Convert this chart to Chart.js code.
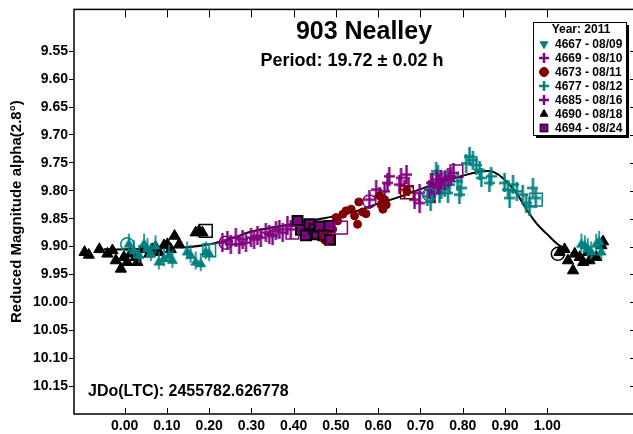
<!DOCTYPE html>
<html>
<head>
<meta charset="utf-8">
<script src="https://cdn.jsdelivr.net/npm/chart.js@4.4.1/dist/chart.umd.min.js"></script>
<style>
  html, body { margin: 0; padding: 0; background: #fff; overflow: hidden; }
</style>
</head>
<body>
<canvas id="lightcurve" width="638" height="434"></canvas>
<script>
/* global Chart */

const FONT = "'Liberation Sans', Arial, sans-serif";

const xTicks = [0.0, 0.1, 0.2, 0.3, 0.4, 0.5, 0.6, 0.7, 0.8, 0.9, 1.0];
const yTicks = [9.55, 9.60, 9.65, 9.70, 9.75, 9.80, 9.85, 9.90, 9.95, 10.00, 10.05, 10.10, 10.15];

const sessionLabels = ["4667 - 08/09", "4669 - 08/10", "4673 - 08/11", "4677 - 08/12", "4685 - 08/16", "4690 - 08/18", "4694 - 08/24"];

// session 4667 (08/09)
const phase4667 = [0.010, 0.022, 0.034, 0.046, 0.054, 0.062, 0.073, 0.081, 0.093, 0.105, 0.113, 0.148, 0.156, 0.168, 0.180, 0.192, 0.200,
    1.081, 1.089, 1.096, 1.104, 1.116, 1.123, 1.128];
const mag4667 = [9.893, 9.905, 9.913, 9.893, 9.901, 9.910, 9.896, 9.925, 9.919, 9.913, 9.922, 9.907, 9.913, 9.925, 9.928, 9.907, 9.910,
    9.893, 9.896, 9.901, 9.907, 9.893, 9.888, 9.907];

// session 4669 (08/10)
const phase4669 = [0.231, 0.243, 0.251, 0.263, 0.271, 0.279, 0.287, 0.299, 0.306, 0.314, 0.322, 0.334, 0.342, 0.350, 0.358, 0.366, 0.374, 0.385, 0.393];
const mag4669 = [9.893, 9.890, 9.896, 9.884, 9.896, 9.887, 9.893, 9.884, 9.887, 9.881, 9.884, 9.875, 9.878, 9.881, 9.872, 9.869, 9.875, 9.863, 9.869];

// session 4673 (08/11)
const phase4673 = [0.476, 0.484, 0.492, 0.500, 0.504, 0.516, 0.524, 0.536, 0.544, 0.551, 0.554, 0.563, 0.571, 0.603, 0.607, 0.611, 0.615, 0.619, 0.668];
const mag4673 = [9.887, 9.887, 9.869, 9.848, 9.854, 9.842, 9.836, 9.833, 9.845, 9.860, 9.820, 9.838, 9.841, 9.809, 9.825, 9.833, 9.816, 9.825, 9.801];

// session 4677 (08/12)
const phase4677 = [0.716, 0.724, 0.729, 0.737, 0.741, 0.745, 0.749, 0.757, 0.759, 0.765, 0.769, 0.788, 0.792, 0.796, 0.808, 0.816, 0.824, 0.832,
    0.840, 0.844, 0.863, 0.867, 0.899, 0.907, 0.911, 0.919, 0.928, 0.942, 0.950, 0.958, 0.966, 0.973];
const mag4677 = [9.810, 9.820, 9.804, 9.765, 9.770, 9.804, 9.798, 9.795, 9.780, 9.804, 9.789, 9.783, 9.807, 9.795, 9.751, 9.739, 9.745, 9.754,
    9.763, 9.777, 9.786, 9.774, 9.786, 9.798, 9.813, 9.789, 9.801, 9.807, 9.822, 9.828, 9.795, 9.813];

// session 4685 (08/16)
const phase4685 = [0.579, 0.595, 0.603, 0.615, 0.622, 0.626, 0.650, 0.654, 0.662, 0.667, 0.672, 0.686, 0.698, 0.698, 0.721, 0.725, 0.728,
    0.733, 0.738, 0.741, 0.745, 0.749, 0.757, 0.765, 0.772, 0.778];
const mag4685 = [9.816, 9.798, 9.810, 9.801, 9.786, 9.774, 9.789, 9.777, 9.798, 9.771, 9.792, 9.816, 9.822, 9.804, 9.798, 9.786, 9.786,
    9.804, 9.780, 9.786, 9.789, 9.779, 9.781, 9.777, 9.774, 9.768];

// session 4690 (08/18)
const phase4690 = [-0.095, -0.085, -0.060, -0.041, -0.029, -0.021, -0.009, -0.002, 0.006, 0.014, 0.026, 0.030, 0.042, 0.058, 0.065, 0.073,
    0.081, 0.093, 0.101, 0.109, 0.118, 0.129, 0.168, 0.176, 0.184,
    1.029, 1.041, 1.049, 1.061, 1.065, 1.077, 1.085, 1.096, 1.100, 1.116, 1.128, 1.132];
const mag4690 = [9.910, 9.915, 9.905, 9.913, 9.907, 9.925, 9.940, 9.919, 9.928, 9.913, 9.919, 9.928, 9.905, 9.913, 9.905, 9.901,
    9.910, 9.898, 9.896, 9.905, 9.881, 9.896, 9.875, 9.872, 9.875,
    9.910, 9.905, 9.925, 9.943, 9.913, 9.919, 9.928, 9.910, 9.925, 9.919, 9.898, 9.891];

// session 4694 (08/24)
const phase4694 = [0.409, 0.417, 0.429, 0.437, 0.449, 0.455, 0.461, 0.470, 0.484, 0.486];
const mag4694 = [9.854, 9.870, 9.880, 9.860, 9.869, 9.878, 9.864, 9.880, 9.863, 9.888];

// first (open circle) and last (open square) point of each session, same order as sessionLabels
const firstPhase = [0.006, 0.239, 0.478, 0.721, 0.579, 1.025, null];
const firstMag = [9.896, 9.893, 9.885, 9.807, 9.819, 9.913, null];
const lastPhase = [0.200, 0.397, 0.668, 0.973, 0.785, 0.192, 0.512];
const lastMag = [9.907, 9.875, 9.803, 9.816, 9.765, 9.872, 9.866];

// Fourier fit
const fitPhase = [-0.05, 0.00, 0.05, 0.10, 0.15, 0.20, 0.25, 0.30, 0.35, 0.40, 0.45, 0.50, 0.55, 0.60, 0.65, 0.70, 0.75, 0.80,
    0.85, 0.875, 0.90, 0.925, 0.95, 0.975, 1.00, 1.025, 1.04];
const fitMag = [9.905, 9.905, 9.904, 9.902, 9.901, 9.896, 9.886, 9.873, 9.866, 9.859, 9.852, 9.845, 9.836, 9.823, 9.811, 9.797, 9.785, 9.773,
    9.765, 9.767, 9.781, 9.802, 9.832, 9.859, 9.878, 9.896, 9.903];

const TEAL = "#008080";
const PURPLE = "#800080";
const MAROON = "#800000";

function pairs(xs, ys) {
    return xs.map((v, i) => ({ x: v, y: ys[i] })).filter(p => p.x !== null);
}

// plus sign with a long vertical bar (error bar look)
function makePlus(color, w, h, lw) {
    const c = document.createElement("canvas");
    c.width = w;
    c.height = h;
    const g = c.getContext("2d");
    g.fillStyle = color;
    g.fillRect((w - lw) / 2, 0, lw, h);
    g.fillRect(0, (h - lw) / 2, w, lw);
    return c;
}

// down triangle with a thin vertical bar
function makeDownTriangle(color) {
    const c = document.createElement("canvas");
    c.width = 12;
    c.height = 22;
    const g = c.getContext("2d");
    g.fillStyle = color;
    g.fillRect(5.2, 2, 1.6, 18);
    g.beginPath();
    g.moveTo(0.5, 6);
    g.lineTo(11.5, 6);
    g.lineTo(6, 15.5);
    g.closePath();
    g.fill();
    return c;
}

const plusTeal = makePlus(TEAL, 11, 19, 2.4);
const plusPurple = makePlus(PURPLE, 11, 19, 2.4);
const triTeal = makeDownTriangle(TEAL);

const sessionStyles = [
    { color: TEAL, fill: TEAL, pointStyle: triTeal, radius: 6, legendStyle: "triangle", rotation: 180 },
    { color: PURPLE, fill: PURPLE, pointStyle: plusPurple, radius: 6, legendStyle: "cross", rotation: 0 },
    { color: MAROON, fill: MAROON, pointStyle: "circle", radius: 4, legendStyle: "circle", rotation: 0 },
    { color: TEAL, fill: TEAL, pointStyle: plusTeal, radius: 6, legendStyle: "cross", rotation: 0 },
    { color: PURPLE, fill: PURPLE, pointStyle: plusPurple, radius: 6, legendStyle: "cross", rotation: 0 },
    { color: "#000", fill: "#000", pointStyle: "triangle", radius: 6.5, legendStyle: "triangle", rotation: 0 },
    { color: "#000", fill: PURPLE, pointStyle: "rect", radius: 7, legendStyle: "rect", rotation: 0 },
];

const sessionData = [
    pairs(phase4667, mag4667),
    pairs(phase4669, mag4669),
    pairs(phase4673, mag4673),
    pairs(phase4677, mag4677),
    pairs(phase4685, mag4685),
    pairs(phase4690, mag4690),
    pairs(phase4694, mag4694),
];

const datasets = [];

// open markers for first / last points
sessionStyles.forEach((st, i) => {
    const openColor = i === 6 ? PURPLE : st.color;
    datasets.push({
        label: "first " + sessionLabels[i],
        data: pairs([firstPhase[i]], [firstMag[i]]),
        pointStyle: "circle",
        pointRadius: 6.5,
        borderColor: openColor,
        backgroundColor: "rgba(0,0,0,0)",
        borderWidth: 1.5,
    });
    datasets.push({
        label: "last " + sessionLabels[i],
        data: pairs([lastPhase[i]], [lastMag[i]]),
        pointStyle: "rect",
        pointRadius: 9,
        borderColor: openColor,
        backgroundColor: "rgba(0,0,0,0)",
        borderWidth: 1.5,
    });
});

// session points (later index drawn underneath)
[6, 2, 4, 1, 3, 0, 5].forEach(i => {
    const st = sessionStyles[i];
    datasets.push({
        label: sessionLabels[i],
        data: sessionData[i],
        pointStyle: st.pointStyle,
        pointRadius: st.radius,
        rotation: st.rotation,
        backgroundColor: st.fill,
        borderColor: st.color,
        borderWidth: i === 6 ? 2 : 1,
    });
});

datasets.push({
    type: "line",
    label: "fit",
    data: pairs(fitPhase, fitMag),
    borderColor: "#000",
    borderWidth: 2,
    pointRadius: 0,
    tension: 0.4,
    showLine: true,
    fill: false,
});

function strokeLine(ctx, x1, y1, x2, y2) {
    ctx.beginPath();
    ctx.moveTo(x1, y1);
    ctx.lineTo(x2, y2);
    ctx.stroke();
}

const decorations = {
    id: "decorations",
    afterDraw(chart) {
        const { ctx, chartArea: a } = chart;
        const x = chart.scales.x;
        const y = chart.scales.y;
        ctx.save();

        // frame and inward ticks (right side of the frame falls past the 633px window)
        ctx.strokeStyle = "#000";
        ctx.lineWidth = 1.5;
        ctx.strokeRect(a.left, a.top, a.right - a.left, a.bottom - a.top);
        ctx.lineWidth = 1;
        xTicks.forEach(v => {
            const px = Math.round(x.getPixelForValue(v)) + 0.5;
            strokeLine(ctx, px, a.bottom, px, a.bottom - 6);
            strokeLine(ctx, px, a.top, px, a.top + 8);
        });
        yTicks.forEach(v => {
            const py = Math.round(y.getPixelForValue(v)) + 0.5;
            strokeLine(ctx, a.right, py, a.right - 6, py);
        });

        // titles
        ctx.fillStyle = "#000";
        ctx.textAlign = "center";
        ctx.textBaseline = "middle";
        ctx.font = "bold 25px " + FONT;
        ctx.fillText("903 Nealley", 364, 32);
        ctx.font = "bold 18px " + FONT;
        ctx.fillText("Period: 19.72 \u00b1 0.02 h", 352, 61);
        ctx.textAlign = "left";
        ctx.font = "bold 16px " + FONT;
        ctx.fillText("JDo(LTC): 2455782.626778", 88, 392);

        // legend box with shadow
        const lx = 533, ly = 22, lw = 93, lh = 113;
        ctx.fillStyle = "#000";
        ctx.fillRect(lx + 3, ly + 3, lw, lh);
        ctx.fillStyle = "#fff";
        ctx.fillRect(lx, ly, lw, lh);
        ctx.strokeStyle = "#000";
        ctx.lineWidth = 1;
        ctx.strokeRect(lx + 0.5, ly + 0.5, lw, lh);

        ctx.fillStyle = "#000";
        ctx.textAlign = "center";
        ctx.font = "bold 12px " + FONT;
        ctx.fillText("Year: 2011", 581, 30);
        ctx.textAlign = "left";
        sessionLabels.forEach((lab, i) => {
            const st = sessionStyles[i];
            const cy = 44 + i * 14;
            ctx.fillStyle = st.fill;
            ctx.strokeStyle = st.color;
            ctx.lineWidth = st.legendStyle === "cross" ? 2.5 : 1;
            Chart.helpers.drawPoint(ctx, {
                pointStyle: st.legendStyle,
                rotation: st.rotation,
                radius: st.legendStyle === "cross" ? 5 : (st.legendStyle === "rect" ? 5.5 : 4.5),
                borderWidth: st.legendStyle === "cross" ? 2.5 : 1,
            }, 544, cy);
            ctx.fillStyle = "#000";
            ctx.fillText(lab, 555, cy + 1);
        });
        ctx.restore();
    },
};

new Chart(document.getElementById("lightcurve"), {
    type: "scatter",
    data: { datasets: datasets },
    options: {
        responsive: false,
        animation: false,
        devicePixelRatio: 1,
        events: [],
        layout: { autoPadding: false, padding: { top: 5, right: 2, left: 0, bottom: 0 } },
        plugins: {
            legend: { display: false },
            tooltip: { enabled: false },
        },
        scales: {
            x: {
                type: "linear",
                min: -0.12,
                max: 1.21,
                afterBuildTicks: s => { s.ticks = xTicks.map(v => ({ value: v })); },
                afterFit: s => { s.height = 20; },
                ticks: {
                    callback: v => v.toFixed(2),
                    font: { family: FONT, size: 14, weight: "bold" },
                    color: "#000",
                    padding: 4,
                    maxRotation: 0,
                    autoSkip: false,
                },
                grid: { display: false, drawTicks: false },
                border: { display: false },
            },
            y: {
                type: "linear",
                reverse: true,
                min: 9.475,
                max: 10.2,
                afterBuildTicks: s => { s.ticks = yTicks.map(v => ({ value: v })); },
                afterFit: s => { s.width = 74; },
                ticks: {
                    callback: v => v.toFixed(2),
                    font: { family: FONT, size: 14, weight: "bold" },
                    color: "#000",
                    padding: 1,
                    autoSkip: false,
                },
                grid: { drawOnChartArea: false, drawTicks: true, tickLength: 5, color: "#000", lineWidth: 1 },
                border: { display: false },
                title: {
                    display: true,
                    text: "Reduced Magnitude alpha(2.8\u00b0)",
                    font: { family: FONT, size: 15, weight: "bold" },
                    color: "#000",
                    padding: { top: 8, bottom: 0 },
                },
            },
        },
    },
    plugins: [decorations],
});
</script>
</body>
</html>
